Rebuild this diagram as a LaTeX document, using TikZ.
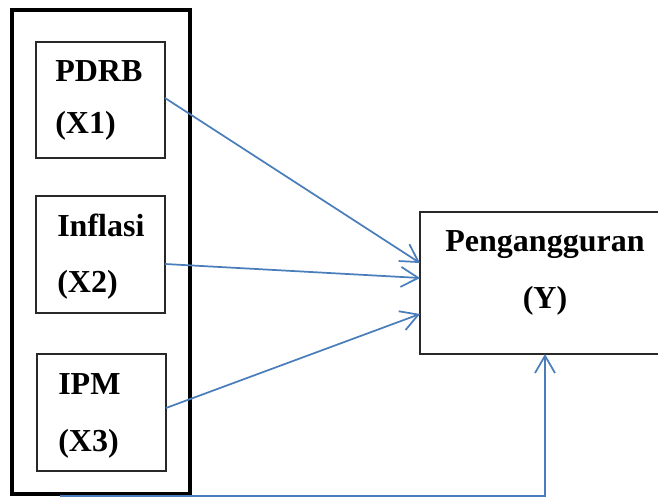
\documentclass[tikz,border=0pt]{standalone}
\usepackage{fontspec}
\setmainfont{Liberation Serif}
\usetikzlibrary{arrows.meta,calc}
\definecolor{linkblue}{RGB}{74,126,187}
\definecolor{boxgray}{RGB}{40,40,40}
\tikzset{
  varbox/.style={draw=boxgray, line width=0.8pt, rectangle, inner sep=0pt, outer sep=0pt},
  groupbox/.style={draw=black, line width=2.7pt, rectangle, inner sep=0pt, outer sep=0pt},
  lbl/.style={font=\fontsize{24}{28}\selectfont\bfseries, inner sep=0pt, anchor=base west},
  clbl/.style={font=\fontsize{24}{28}\selectfont\bfseries, inner sep=0pt, anchor=base},
  link/.style={draw=linkblue, line width=1.3pt,
    -{Straight Barb[length=13pt, width=15pt, line width=1.3pt]}},
}
\begin{document}
\begin{tikzpicture}[x=0.75pt, y=-0.75pt]
  \useasboundingbox (0,0) rectangle (658,498);

  % grouping frame around the three independent variables
  \node[groupbox, minimum width=178*0.75pt, minimum height=484*0.75pt] (grp) at (101,252) {};

  % independent variables
  \node[varbox, minimum width=129*0.75pt, minimum height=116*0.75pt] (x1) at (100.5,100) {};
  \node[varbox, minimum width=129*0.75pt, minimum height=117*0.75pt] (x2) at (100.5,254.5) {};
  \node[varbox, minimum width=129*0.75pt, minimum height=117*0.75pt] (x3) at (101.5,412.5) {};

  \node[lbl] (t1a) at (55,82) {PDRB};
  \node[lbl] (t1b) at (55,134) {(X1)};
  \node[lbl] (t2a) at (57,237) {Inflasi};
  \node[lbl] (t2b) at (57,293) {(X2)};
  \node[lbl] (t3a) at (58,395) {IPM};
  \node[lbl] (t3b) at (58,452) {(X3)};

  % dependent variable
  \node[varbox, line width=1.1pt, minimum width=250*0.75pt, minimum height=142*0.75pt] (y) at (545,283) {};
  \node[clbl] (tya) at (545,252) {Pengangguran};
  \node[clbl] (tyb) at (545,309) {(Y)};

  % partial effects
  \draw[link] ($(x1.east)+(0,-2)$) -- ($(y.west)+(0,-20)$);
  \draw[link] ($(x2.east)+(0,9.5)$) -- ($(y.west)+(0,-5)$);
  \draw[link] ($(x3.east)+(0,-4.5)$) -- ($(y.west)+(0,31)$);

  % joint effect
  \coordinate (jstart) at ($(grp.south west)+(48,2)$);
  \draw[link] (jstart) -| (y.south);
\end{tikzpicture}
\end{document}
